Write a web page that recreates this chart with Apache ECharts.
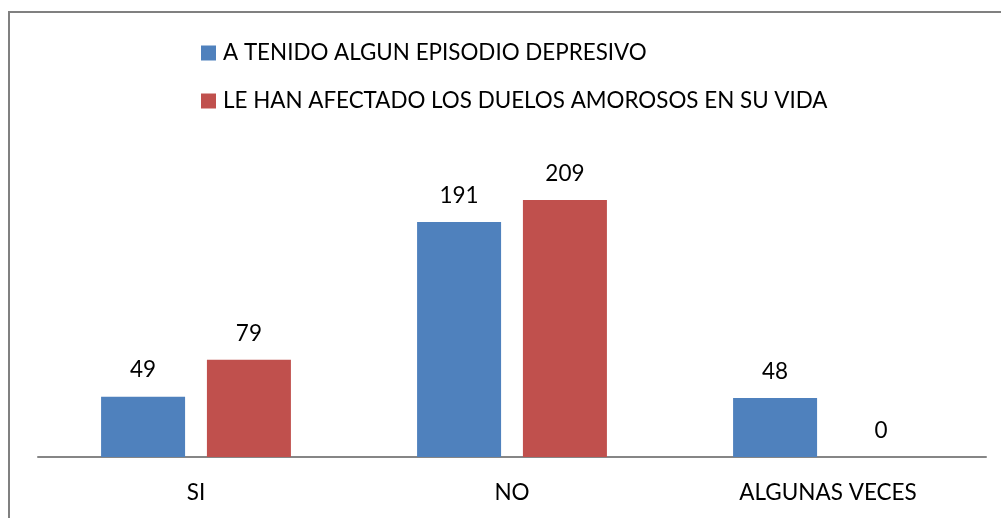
<!DOCTYPE html>
<html>
<head>
<meta charset="utf-8">
<script src="https://cdn.jsdelivr.net/npm/echarts@6/dist/echarts.min.js"></script>
<style>
  html, body { margin: 0; padding: 0; background: #fff; }
  #main { width: 1001px; height: 518px; }
</style>
</head>
<body>
<div id="main"></div>
<script>
  // datos
  var categorias = ['SI', 'NO', 'ALGUNAS VECES'];
  var depresivo = [49, 191, 48];
  var duelos = [79, 209, 0];
  var nombres = ['A TENIDO ALGUN EPISODIO DEPRESIVO', 'LE HAN AFECTADO LOS DUELOS AMOROSOS EN SU VIDA'];

  var fuente = 'Lato';
  var myChart = echarts.init(document.getElementById('main'));

  var etiqueta = {
      show: true,
      position: 'top',
      distance: 15,
      color: '#000',
      fontSize: 22.5,
      fontFamily: fuente
  };

  var option = {
      animation: false,
      backgroundColor: '#fff',
      graphic: [{
          type: 'rect',
          shape: { x: 9, y: 12, width: 1200, height: 700 },
          style: { fill: 'none', stroke: '#808080', lineWidth: 2 },
          silent: true
      }],
      legend: {
          orient: 'vertical',
          left: 196,
          top: 37,
          itemWidth: 15,
          itemHeight: 15,
          itemGap: 26,
          icon: 'rect',
          textStyle: { fontSize: 22.4, fontFamily: fuente, color: '#000', padding: [0, 0, 0, 2] },
          data: nombres
      },
      grid: {
          left: 38,
          right: 15,
          top: 88,
          bottom: 61
      },
      xAxis: {
          type: 'category',
          data: categorias,
          axisLine: { lineStyle: { color: '#868686', width: 2 } },
          axisTick: { show: false },
          axisLabel: { fontSize: 22.5, fontFamily: fuente, color: '#000', margin: 24 }
      },
      yAxis: {
          type: 'value',
          min: 0,
          max: 300,
          show: false,
          splitLine: { show: false }
      },
      series: [{
          name: nombres[0],
          type: 'bar',
          data: depresivo,
          barWidth: 84,
          barGap: '26%',
          itemStyle: { color: '#4f81bd' },
          label: etiqueta
      }, {
          name: nombres[1],
          type: 'bar',
          data: duelos,
          barWidth: 84,
          itemStyle: { color: '#c0504d' },
          label: etiqueta
      }]
  };

  myChart.setOption(option);
</script>
</body>
</html>
